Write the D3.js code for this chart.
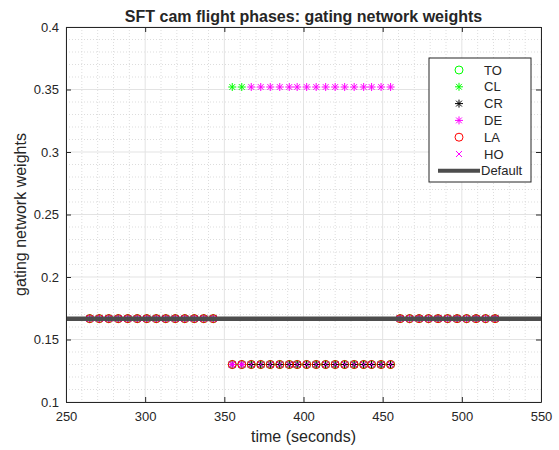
<!DOCTYPE html>
<html>
<head>
<meta charset="utf-8">
<script src="https://cdn.jsdelivr.net/npm/d3@7"></script>
<style>
  body { margin: 0; background: #fff; }
  text { font-family: "Liberation Sans", Arial, Helvetica, sans-serif; fill: #262626; }
</style>
</head>
<body>
<svg id="chart"></svg>
<script>
// sample times (seconds)
var time = [265, 271, 277, 283, 289, 295, 301, 307, 313, 319, 325, 331, 337, 343,
  355, 361, 367, 373, 379, 385, 391, 396, 402, 408, 414, 420, 426, 432, 438, 443, 449, 455,
  461, 467, 473, 479, 485, 491, 497, 503, 509, 515, 521];

// gating weight of each expert at those times
var wTO = [0.1667, 0.1667, 0.1667, 0.1667, 0.1667, 0.1667, 0.1667, 0.1667, 0.1667, 0.1667, 0.1667, 0.1667, 0.1667, 0.1667,
  0.13, 0.13, 0.13, 0.13, 0.13, 0.13, 0.13, 0.13, 0.13, 0.13, 0.13, 0.13, 0.13, 0.13, 0.13, 0.13, 0.13, 0.13,
  0.1667, 0.1667, 0.1667, 0.1667, 0.1667, 0.1667, 0.1667, 0.1667, 0.1667, 0.1667, 0.1667];
var wCL = [0.1667, 0.1667, 0.1667, 0.1667, 0.1667, 0.1667, 0.1667, 0.1667, 0.1667, 0.1667, 0.1667, 0.1667, 0.1667, 0.1667,
  0.352, 0.352, 0.13, 0.13, 0.13, 0.13, 0.13, 0.13, 0.13, 0.13, 0.13, 0.13, 0.13, 0.13, 0.13, 0.13, 0.13, 0.13,
  0.1667, 0.1667, 0.1667, 0.1667, 0.1667, 0.1667, 0.1667, 0.1667, 0.1667, 0.1667, 0.1667];
var wCR = [0.1667, 0.1667, 0.1667, 0.1667, 0.1667, 0.1667, 0.1667, 0.1667, 0.1667, 0.1667, 0.1667, 0.1667, 0.1667, 0.1667,
  0.13, 0.13, 0.13, 0.13, 0.13, 0.13, 0.13, 0.13, 0.13, 0.13, 0.13, 0.13, 0.13, 0.13, 0.13, 0.13, 0.13, 0.13,
  0.1667, 0.1667, 0.1667, 0.1667, 0.1667, 0.1667, 0.1667, 0.1667, 0.1667, 0.1667, 0.1667];
var wDE = [0.1667, 0.1667, 0.1667, 0.1667, 0.1667, 0.1667, 0.1667, 0.1667, 0.1667, 0.1667, 0.1667, 0.1667, 0.1667, 0.1667,
  0.13, 0.13, 0.352, 0.352, 0.352, 0.352, 0.352, 0.352, 0.352, 0.352, 0.352, 0.352, 0.352, 0.352, 0.352, 0.352, 0.352, 0.352,
  0.1667, 0.1667, 0.1667, 0.1667, 0.1667, 0.1667, 0.1667, 0.1667, 0.1667, 0.1667, 0.1667];
var wLA = [0.1667, 0.1667, 0.1667, 0.1667, 0.1667, 0.1667, 0.1667, 0.1667, 0.1667, 0.1667, 0.1667, 0.1667, 0.1667, 0.1667,
  0.13, 0.13, 0.13, 0.13, 0.13, 0.13, 0.13, 0.13, 0.13, 0.13, 0.13, 0.13, 0.13, 0.13, 0.13, 0.13, 0.13, 0.13,
  0.1667, 0.1667, 0.1667, 0.1667, 0.1667, 0.1667, 0.1667, 0.1667, 0.1667, 0.1667, 0.1667];
var wHO = [0.1667, 0.1667, 0.1667, 0.1667, 0.1667, 0.1667, 0.1667, 0.1667, 0.1667, 0.1667, 0.1667, 0.1667, 0.1667, 0.1667,
  0.13, 0.13, 0.13, 0.13, 0.13, 0.13, 0.13, 0.13, 0.13, 0.13, 0.13, 0.13, 0.13, 0.13, 0.13, 0.13, 0.13, 0.13,
  0.1667, 0.1667, 0.1667, 0.1667, 0.1667, 0.1667, 0.1667, 0.1667, 0.1667, 0.1667, 0.1667];

var defaultWeight = 0.1667;
var seriesNames = ["TO", "CL", "CR", "DE", "LA", "HO"];
var seriesColors = ["#00ff00", "#00ff00", "#000000", "#ff00ff", "#ff0000", "#ff00ff"];
var seriesMarkers = ["o", "*", "*", "*", "o", "x"];
var seriesValues = [wTO, wCL, wCR, wDE, wLA, wHO];

var xTicks = [250, 300, 350, 400, 450, 500, 550];
var yTicks = [0.1, 0.15, 0.2, 0.25, 0.3, 0.35, 0.4];

var width = 559,
    height = 450;
var plotLeft = 66, plotRight = 541, plotTop = 27, plotBottom = 402;

var svg = d3.select("#chart")
  .attr("width", width)
  .attr("height", height);

var x = d3.scaleLinear().domain([250, 550]).range([plotLeft, plotRight]);
var y = d3.scaleLinear().domain([0.1, 0.4]).range([plotBottom, plotTop]);

// minor grid (dotted)
var xMinor = d3.range(250, 551, 10).filter(function(d) { return d % 50 != 0; });
var yMinor = d3.range(10, 41, 1).map(function(d) { return d / 100; })
  .filter(function(d) { return Math.round(d * 100) % 5 != 0; });

var grid = svg.append("g");
grid.selectAll(".xminor").data(xMinor).enter().append("line")
  .attr("x1", function(d) { return x(d); }).attr("x2", function(d) { return x(d); })
  .attr("y1", plotTop).attr("y2", plotBottom)
  .attr("stroke", "#d4d4d4").attr("stroke-width", 0.8).attr("stroke-dasharray", "1,2");
grid.selectAll(".yminor").data(yMinor).enter().append("line")
  .attr("x1", plotLeft).attr("x2", plotRight)
  .attr("y1", function(d) { return y(d); }).attr("y2", function(d) { return y(d); })
  .attr("stroke", "#d4d4d4").attr("stroke-width", 0.8).attr("stroke-dasharray", "1,2");
// major grid
grid.selectAll(".xmajor").data(xTicks).enter().append("line")
  .attr("x1", function(d) { return x(d); }).attr("x2", function(d) { return x(d); })
  .attr("y1", plotTop).attr("y2", plotBottom)
  .attr("stroke", "#e3e3e3").attr("stroke-width", 1);
grid.selectAll(".ymajor").data(yTicks).enter().append("line")
  .attr("x1", plotLeft).attr("x2", plotRight)
  .attr("y1", function(d) { return y(d); }).attr("y2", function(d) { return y(d); })
  .attr("stroke", "#e3e3e3").attr("stroke-width", 1);

// markers
function markerPath(type) {
  if (type == "*") {
    var r = 4, q = 2.9;
    return "M" + (-r) + ",0L" + r + ",0M0," + (-r) + "L0," + r +
      "M" + (-q) + "," + (-q) + "L" + q + "," + q + "M" + (-q) + "," + q + "L" + q + "," + (-q);
  }
  if (type == "x") {
    var s = 3;
    return "M" + (-s) + "," + (-s) + "L" + s + "," + s + "M" + (-s) + "," + s + "L" + s + "," + (-s);
  }
  return null;
}

function drawMarker(g, type, color) {
  if (type == "o") {
    g.append("circle").attr("r", 4).attr("fill", "none")
      .attr("stroke", color).attr("stroke-width", 1);
  } else {
    g.append("path").attr("d", markerPath(type)).attr("fill", "none")
      .attr("stroke", color).attr("stroke-width", 1);
  }
}

seriesValues.forEach(function(vals, s) {
  var pts = svg.append("g").selectAll("g")
    .data(time.map(function(t, i) { return { t: t, w: vals[i] }; }))
    .enter().append("g")
    .attr("transform", function(d) { return "translate(" + x(d.t) + "," + y(d.w) + ")"; });
  pts.each(function() {
    drawMarker(d3.select(this), seriesMarkers[s], seriesColors[s]);
  });
});

// default line
svg.append("line")
  .attr("x1", x(250)).attr("x2", x(550))
  .attr("y1", y(defaultWeight)).attr("y2", y(defaultWeight))
  .attr("stroke", "#4d4d4d").attr("stroke-width", 4.5);

// axes
var axisColor = "#262626";
var xAxis = svg.append("g").attr("transform", "translate(0," + plotBottom + ")")
  .call(d3.axisBottom(x).tickValues(xTicks).tickSizeInner(-5).tickSizeOuter(0).tickPadding(10)
    .tickFormat(d3.format("d")));
var xAxisTop = svg.append("g").attr("transform", "translate(0," + plotTop + ")")
  .call(d3.axisTop(x).tickValues(xTicks).tickSizeInner(-5).tickSizeOuter(0).tickFormat(""));
var yAxis = svg.append("g").attr("transform", "translate(" + plotLeft + ",0)")
  .call(d3.axisLeft(y).tickValues(yTicks).tickSizeInner(-5).tickSizeOuter(0).tickPadding(7)
    .tickFormat(function(d) { return String(+d.toFixed(2)); }));
var yAxisRight = svg.append("g").attr("transform", "translate(" + plotRight + ",0)")
  .call(d3.axisRight(y).tickValues(yTicks).tickSizeInner(-5).tickSizeOuter(0).tickFormat(""));

[xAxis, xAxisTop, yAxis, yAxisRight].forEach(function(a) {
  a.select(".domain").attr("stroke", axisColor);
  a.selectAll(".tick line").attr("stroke", axisColor);
  a.selectAll(".tick text").style("font-size", "13px").attr("fill", axisColor)
    .style("font-family", "'Liberation Sans', Arial, sans-serif");
});

// titles
svg.append("text")
  .attr("x", (plotLeft + plotRight) / 2).attr("y", 22)
  .attr("text-anchor", "middle")
  .style("font-size", "16px").style("font-weight", "bold")
  .attr("fill", "#000")
  .text("SFT cam flight phases: gating network weights");

svg.append("text")
  .attr("x", (plotLeft + plotRight) / 2).attr("y", 442)
  .attr("text-anchor", "middle")
  .style("font-size", "16px")
  .text("time (seconds)");

svg.append("text")
  .attr("transform", "translate(26," + ((plotTop + plotBottom) / 2) + ") rotate(-90)")
  .attr("text-anchor", "middle")
  .style("font-size", "16px")
  .text("gating network weights");

// legend
var legend = svg.append("g");
legend.append("rect")
  .attr("x", 429).attr("y", 58).attr("width", 102).attr("height", 124)
  .attr("fill", "#fff").attr("stroke", axisColor).attr("stroke-width", 1);

var legendNames = seriesNames.concat(["Default"]);
legendNames.forEach(function(name, i) {
  var ly = 70 + i * 16.8;
  var row = legend.append("g").attr("transform", "translate(0," + ly + ")");
  if (i < seriesNames.length) {
    var m = row.append("g").attr("transform", "translate(459,0)");
    drawMarker(m, seriesMarkers[i], seriesColors[i]);
  } else {
    row.append("line").attr("x1", 438).attr("x2", 480).attr("y1", 0).attr("y2", 0)
      .attr("stroke", "#4d4d4d").attr("stroke-width", 4);
  }
  row.append("text")
    .attr("x", i < seriesNames.length ? 484 : 481).attr("y", 0).attr("dy", "0.35em")
    .style("font-size", "13px").attr("fill", "#000")
    .text(name);
});
</script>
</body>
</html>
